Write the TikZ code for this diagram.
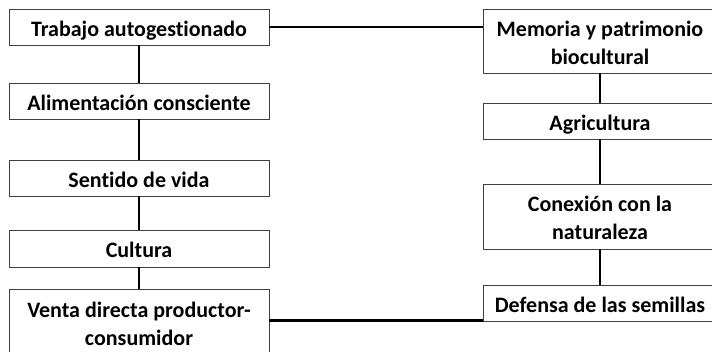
\documentclass[tikz,border=0pt]{standalone}
\usepackage{fontspec}
\setmainfont{Carlito}[Ligatures=NoCommon]
\usetikzlibrary{calc}
\begin{document}
\begin{tikzpicture}[x=1pt,y=-1pt,
  boxl/.style={draw=black!75, line width=0.9pt, fill=white, minimum width=260pt, inner sep=0pt,
    text height=18pt, text depth=0pt,
    align=center, font=\fontsize{22}{28}\selectfont\bfseries},
  boxr/.style={boxl, minimum width=234pt},
  twoline/.style={text height=46pt},
  conn/.style={line width=2.4pt, black}]
\useasboundingbox (0,0) rectangle (712,351);
\clip (0,0) rectangle (712,351);
\node[boxl, minimum height=36pt] (b1) at (139,27) {Trabajo autogestionado};
\node[boxl, minimum height=36pt] (b2) at (139,101) {Alimentación consciente};
\node[boxl, minimum height=36pt] (b3) at (139,178) {Sentido de vida};
\node[boxl, minimum height=37pt] (b4) at (139,248.5) {Cultura};
\node[boxl, twoline, minimum height=66pt] (b5) at (139,322) {Venta directa productor-\\consumidor};
\node[boxr, twoline, minimum height=64pt] (r1) at (600,41) {Memoria y patrimonio\\biocultural};
\node[boxr, minimum height=36pt] (r2) at (600,121) {Agricultura};
\node[boxr, twoline, minimum height=65pt] (r3) at (600,216.5) {Conexión con la\\naturaleza};
\node[boxr, minimum height=36pt] (r4) at (600,303) {Defensa de las semillas};
\draw[conn] (b1) -- (b2);
\draw[conn] (b2) -- (b3);
\draw[conn] (b3) -- (b4);
\draw[conn] (b4) -- (b5);
\draw[conn] (r1) -- (r2);
\draw[conn] (r2) -- (r3);
\draw[conn] (r3) -- (r4);
\draw[conn] (b1.east) -- (b1.east -| r1.west);
\draw[conn] ($(r4.south west -| b5.east)+(0,-1)$) -- ($(r4.south west)+(0,-1)$);
\end{tikzpicture}
\end{document}
